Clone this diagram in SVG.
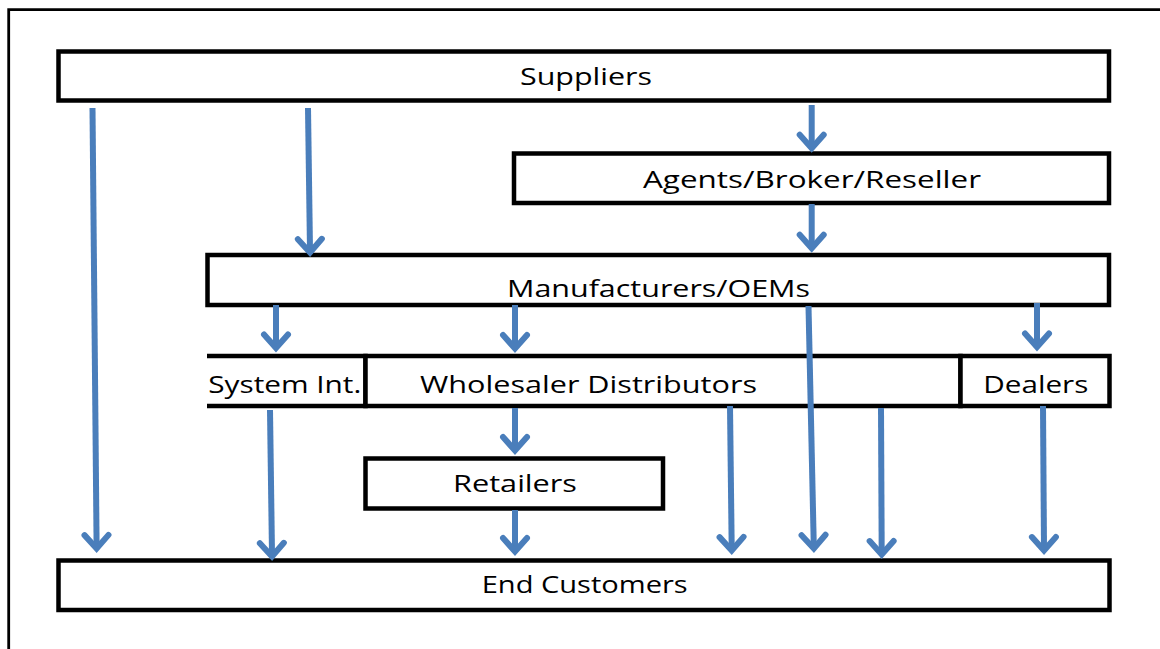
<svg xmlns="http://www.w3.org/2000/svg" width="1160" height="649" viewBox="0 0 1160 649">
<style>
.box{fill:#fff;stroke:#000;stroke-width:4.5}
.open{fill:none;stroke:#000;stroke-width:4.5}
.frame{fill:none;stroke:#000;stroke-width:2.8}
.lbl{font-family:"Open Sans","Noto Sans","Liberation Sans",sans-serif;font-size:24px;fill:#000}
.arr{fill:none;stroke:#4A7EBB;stroke-width:6;marker-end:url(#head)}
</style>
<defs>
<marker id="head" markerUnits="userSpaceOnUse" orient="auto" refX="-2" refY="0" markerWidth="40" markerHeight="40" overflow="visible">
<path d="M -13.5 -12 L 0 0 L -13.5 12" fill="none" stroke="#4A7EBB" stroke-width="6" stroke-linecap="round" stroke-linejoin="miter"/>
</marker>
</defs>
<rect width="1160" height="649" fill="#fff"/>
<path class="frame" d="M 8.7 649 V 9.7 H 1160"/>

<g id="suppliers">
<rect class="box" x="58.5" y="51.5" width="1050.5" height="49"/>
<text class="lbl" x="520" y="84.5" textLength="132" lengthAdjust="spacingAndGlyphs">Suppliers</text>
</g>
<g id="agents">
<rect class="box" x="514" y="153.5" width="595" height="49.5"/>
<text class="lbl" x="643" y="187.7" textLength="338" lengthAdjust="spacingAndGlyphs">Agents/Broker/Reseller</text>
</g>
<g id="manufacturers">
<rect class="box" x="207.5" y="255" width="901.5" height="50"/>
<text class="lbl" x="507" y="296.7" textLength="303" lengthAdjust="spacingAndGlyphs">Manufacturers/OEMs</text>
</g>
<g id="system-int">
<path class="open" d="M 207 356 H 365.5 V 406 H 207"/>
<text class="lbl" x="208.3" y="392.7" textLength="153" lengthAdjust="spacingAndGlyphs">System Int.</text>
</g>
<g id="wholesaler">
<rect class="box" x="365.5" y="356" width="595" height="50"/>
<text class="lbl" x="420" y="392.7" textLength="337" lengthAdjust="spacingAndGlyphs">Wholesaler Distributors</text>
</g>
<g id="dealers">
<rect class="box" x="960.5" y="356" width="149" height="50"/>
<text class="lbl" x="983.3" y="393.3" textLength="105" lengthAdjust="spacingAndGlyphs">Dealers</text>
</g>
<g id="retailers">
<rect class="box" x="365.5" y="458.5" width="297.5" height="50"/>
<text class="lbl" x="453" y="491.7" textLength="124" lengthAdjust="spacingAndGlyphs">Retailers</text>
</g>
<g id="end-customers">
<rect class="box" x="58.5" y="560.5" width="1051" height="49.5"/>
<text class="lbl" x="481.7" y="593.3" textLength="206" lengthAdjust="spacingAndGlyphs">End Customers</text>
</g>

<g id="connectors">
<path class="arr" d="M 92.5 108 L 96.6 546.5"/>
<path class="arr" d="M 308 108 L 310 250.5"/>
<path class="arr" d="M 811.7 105 L 811.7 146.2"/>
<path class="arr" d="M 811.7 204 L 811.7 246.2"/>
<path class="arr" d="M 276 305 L 276 346"/>
<path class="arr" d="M 515 305 L 515 346.5"/>
<path class="arr" d="M 1037 303 L 1037 345"/>
<path class="arr" d="M 808.5 306 L 813.8 546.5"/>
<path class="arr" d="M 270 410 L 272 554.5"/>
<path class="arr" d="M 515 408 L 515 448.5"/>
<path class="arr" d="M 730 406 L 731.7 548.5"/>
<path class="arr" d="M 881 408 L 881.7 552.5"/>
<path class="arr" d="M 1043 406 L 1044 548.5"/>
<path class="arr" d="M 515 510 L 515 549.5"/>
</g>
</svg>
